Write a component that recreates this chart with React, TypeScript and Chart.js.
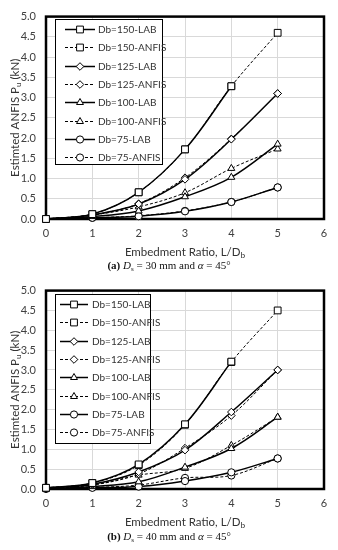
import React, { useEffect, useRef } from "react";
import { Chart, registerables } from "chart.js";

Chart.register(...registerables);

// ---------- data ----------
const embedmentRatio = [0, 1, 2, 3, 4, 5];
const xTickValues = [0, 1, 2, 3, 4, 5, 6];

const seriesLabels = [
  "Db=150-LAB",
  "Db=150-ANFIS",
  "Db=125-LAB",
  "Db=125-ANFIS",
  "Db=100-LAB",
  "Db=100-ANFIS",
  "Db=75-LAB",
  "Db=75-ANFIS",
];

// panel (a) Ds = 30 mm
const a150Lab = [0, 0.12, 0.66, 1.72, 3.28];
const a150Anfis = [0, 0.12, 0.66, 1.72, 3.28, 4.6];
const a125Lab = [0, 0.1, 0.37, 0.98, 1.97, 3.1];
const a125Anfis = [0, 0.1, 0.38, 1.02, 1.98, 3.1];
const a100Lab = [0, 0.06, 0.2, 0.55, 1.03, 1.85];
const a100Anfis = [0, 0.1, 0.3, 0.65, 1.25, 1.73];
const a75Lab = [0, 0.03, 0.07, 0.19, 0.42, 0.78];
const a75Anfis = [0, 0.03, 0.08, 0.2, 0.42, 0.78];

// panel (b) Ds = 40 mm
const b150Lab = [0.03, 0.15, 0.62, 1.63, 3.21];
const b150Anfis = [0.03, 0.15, 0.6, 1.62, 3.2, 4.5];
const b125Lab = [0.02, 0.12, 0.43, 0.98, 1.94, 3.0];
const b125Anfis = [0.02, 0.1, 0.38, 1.03, 1.85, 3.0];
const b100Lab = [0, 0.06, 0.18, 0.55, 1.02, 1.81];
const b100Anfis = [0.02, 0.1, 0.35, 0.52, 1.1, 1.81];
const b75Lab = [0, 0.03, 0.06, 0.2, 0.42, 0.77];
const b75Anfis = [0.03, 0.04, 0.1, 0.28, 0.34, 0.77];

const panelA = [a150Lab, a150Anfis, a125Lab, a125Anfis, a100Lab, a100Anfis, a75Lab, a75Anfis];
const panelB = [b150Lab, b150Anfis, b125Lab, b125Anfis, b100Lab, b100Anfis, b75Lab, b75Anfis];

// ---------- styles ----------
const FONT = "Lato, 'Noto Sans', sans-serif";
const shapes = ["rect", "rect", "rectRot", "rectRot", "triangle", "triangle", "circle", "circle"];
const radii = [4.8, 4.8, 3.8, 3.8, 4, 4, 3.6, 3.6];

function makeDatasets(values: number[][]) {
  return values.map((vals, i) => {
    const dashed = i % 2 === 1;
    return {
      label: seriesLabels[i],
      data: vals.map((y, j) => ({ x: embedmentRatio[j], y })),
      borderColor: "#000",
      borderWidth: dashed ? 1 : 1.5,
      borderDash: dashed ? [3, 2] : [],
      pointStyle: shapes[i],
      pointRadius: radii[i],
      pointBackgroundColor: "#fff",
      pointBorderColor: "#000",
      pointBorderWidth: 1,
      tension: 0.35,
      clip: false,
      fill: false,
    };
  });
}

function drawMarker(ctx: CanvasRenderingContext2D, style: string, r: number, x: number, y: number) {
  ctx.beginPath();
  if (style === "rect") {
    const h = r * Math.SQRT1_2;
    ctx.rect(x - h, y - h, 2 * h, 2 * h);
  } else if (style === "rectRot") {
    ctx.moveTo(x - r, y);
    ctx.lineTo(x, y - r);
    ctx.lineTo(x + r, y);
    ctx.lineTo(x, y + r);
    ctx.closePath();
  } else if (style === "triangle") {
    ctx.moveTo(x, y - r);
    ctx.lineTo(x + r * 0.866, y + r * 0.5);
    ctx.lineTo(x - r * 0.866, y + r * 0.5);
    ctx.closePath();
  } else {
    ctx.arc(x, y, r, 0, Math.PI * 2);
  }
  ctx.fillStyle = "#fff";
  ctx.fill();
  ctx.strokeStyle = "#000";
  ctx.lineWidth = 1;
  ctx.stroke();
}

type Part = { t: string; sub?: boolean };

function drawParts(ctx: CanvasRenderingContext2D, parts: Part[], x: number, y: number, size: number) {
  const subSize = size * 0.72;
  let total = 0;
  const widths = parts.map((p) => {
    ctx.font = `${p.sub ? subSize : size}px ${FONT}`;
    const w = ctx.measureText(p.t).width;
    total += w;
    return w;
  });
  let cx = x - total / 2;
  ctx.textAlign = "left";
  ctx.textBaseline = "middle";
  parts.forEach((p, i) => {
    ctx.font = `${p.sub ? subSize : size}px ${FONT}`;
    ctx.fillText(p.t, cx, p.sub ? y + size * 0.3 : y);
    cx += widths[i];
  });
}

const decorPlugin = {
  id: "decor",
  beforeDatasetsDraw(chart: any) {
    const { ctx, chartArea } = chart;
    ctx.save();
    ctx.strokeStyle = "#000";
    ctx.lineWidth = 2.5;
    ctx.strokeRect(chartArea.left, chartArea.top, chartArea.right - chartArea.left, chartArea.bottom - chartArea.top);
    ctx.restore();
  },
  afterDraw(chart: any, _args: any, opts: any) {
    const { ctx, chartArea } = chart;
    ctx.save();
    // axis titles
    ctx.fillStyle = "#333";
    drawParts(
      ctx,
      [{ t: "Embedment Ratio, L/D" }, { t: "b", sub: true }],
      (chartArea.left + chartArea.right) / 2,
      chartArea.bottom + 33,
      11.5
    );
    ctx.save();
    ctx.translate(15, (chartArea.top + chartArea.bottom) / 2);
    ctx.rotate(-Math.PI / 2);
    drawParts(ctx, [{ t: "Estimted ANFIS P" }, { t: "u", sub: true }, { t: " (kN)" }], 0, 0, 11.5);
    ctx.restore();

    // legend
    const L = opts.legend;
    ctx.fillStyle = "#fff";
    ctx.fillRect(L.left, L.top, L.width, L.height);
    ctx.strokeStyle = "#000";
    ctx.lineWidth = 1;
    ctx.strokeRect(L.left + 0.5, L.top + 0.5, L.width, L.height);
    chart.data.datasets.forEach((ds: any, i: number) => {
      const y = Math.round(L.firstRow + i * L.rowH) + 0.5;
      ctx.save();
      ctx.strokeStyle = "#000";
      ctx.lineWidth = ds.borderWidth;
      ctx.setLineDash(ds.borderDash || []);
      ctx.beginPath();
      ctx.moveTo(L.lineX0, y);
      ctx.lineTo(L.lineX1, y);
      ctx.stroke();
      ctx.setLineDash([]);
      drawMarker(ctx, ds.pointStyle, ds.pointRadius, (L.lineX0 + L.lineX1) / 2, y);
      ctx.restore();
      ctx.fillStyle = "#333";
      ctx.font = `10px ${FONT}`;
      ctx.textAlign = "left";
      ctx.textBaseline = "middle";
      ctx.fillText(ds.label, L.textX, y);
    });
    ctx.restore();
  },
};

function ChartPanel(props: { values: number[][]; height: number; legend: any }) {
  const ref = useRef<HTMLCanvasElement | null>(null);
  useEffect(() => {
    if (!ref.current) return;
    const chart = new Chart(ref.current, {
      type: "line",
      data: { datasets: makeDatasets(props.values) as any },
      plugins: [decorPlugin],
      options: {
        animation: false,
        responsive: false,
        devicePixelRatio: 1,
        layout: { padding: { top: 13, right: 14, left: 0, bottom: 0 } },
        plugins: {
          legend: { display: false },
          tooltip: { enabled: false },
          decor: { legend: props.legend },
        } as any,
        scales: {
          x: {
            type: "linear",
            min: 0,
            max: 6,
            afterBuildTicks: (scale: any) => {
              scale.ticks = xTickValues.map((v) => ({ value: v }));
            },
            afterFit: (scale: any) => {
              scale.height = 43;
            },
            grid: { color: "#d9d9d9", drawTicks: false },
            border: { display: false },
            ticks: { padding: 8, color: "#404040", font: { family: FONT, size: 11 } },
          },
          y: {
            type: "linear",
            min: 0,
            max: 5,
            afterFit: (scale: any) => {
              scale.width = 46;
            },
            grid: { color: "#d9d9d9", drawTicks: false },
            border: { display: false },
            ticks: {
              stepSize: 0.5,
              padding: 10,
              color: "#404040",
              font: { family: FONT, size: 11 },
              callback: (v: any) => Number(v).toFixed(1),
            },
          },
        },
      } as any,
    });
    return () => chart.destroy();
  }, []);
  return <canvas ref={ref} width={338} height={props.height} style={{ display: "block" }} />;
}

const captionStyle: React.CSSProperties = {
  position: "absolute",
  left: 0,
  width: 338,
  textAlign: "center",
  fontFamily: "'Liberation Serif', 'DejaVu Serif', serif",
  fontSize: 11,
  lineHeight: "13px",
  color: "#111",
};

export default function App() {
  return (
    <div style={{ position: "fixed", left: 0, top: 0, width: 338, height: 550, background: "#fff", overflow: "hidden" }}>
      <div style={{ position: "absolute", left: 0, top: 0 }}>
        <ChartPanel
          values={panelA}
          height={262}
          legend={{ left: 55, top: 19, width: 107, height: 145, firstRow: 29, rowH: 18.3, lineX0: 65, lineX1: 95, textX: 98 }}
        />
      </div>
      <div style={{ ...captionStyle, top: 259 }}>
        <b>(a)</b> <i>D</i><sub style={{ fontSize: 7, verticalAlign: "-2px" }}>s</sub> = 30 mm and <i>α</i> = 45°
      </div>
      <div style={{ position: "absolute", left: 0, top: 274 }}>
        <ChartPanel
          values={panelB}
          height={258}
          legend={{ left: 55, top: 20, width: 95, height: 149, firstRow: 30, rowH: 18.3, lineX0: 60, lineX1: 88, textX: 92 }}
        />
      </div>
      <div style={{ ...captionStyle, top: 530 }}>
        <b>(b)</b> <i>D</i><sub style={{ fontSize: 7, verticalAlign: "-2px" }}>s</sub> = 40 mm and <i>α</i> = 45°
      </div>
    </div>
  );
}
